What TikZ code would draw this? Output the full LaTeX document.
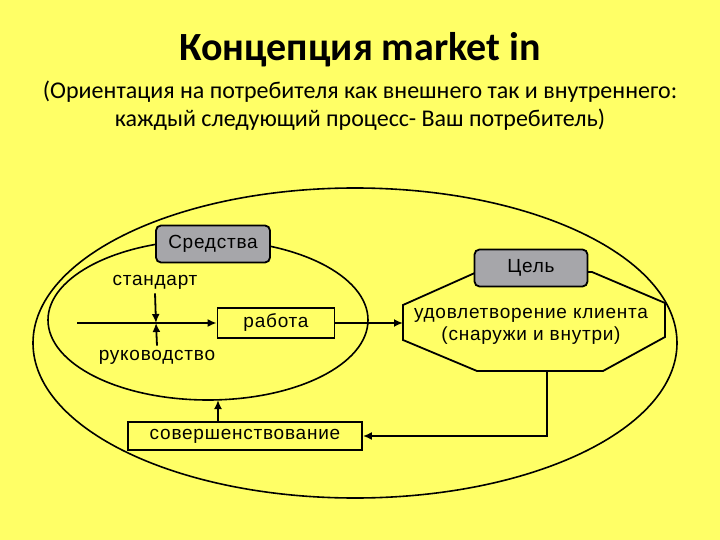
\documentclass[tikz,border=0pt]{standalone}
\usepackage{fontspec}
\setmainfont{Carlito}
\newfontfamily\pixfont[LetterSpace=4]{Liberation Sans}
\usetikzlibrary{arrows.meta,positioning,calc}
\definecolor{SlideYellow}{RGB}{255,255,102}
\definecolor{BoxGray}{RGB}{166,166,170}

\begin{document}
\begin{tikzpicture}[x=1pt,y=-1pt,>={Latex[length=9pt,width=8pt]},line width=1.8pt,
 every node/.style={font=\pixfont\fontsize{19}{22}\selectfont},
 frame/.style={draw,fill=SlideYellow,inner sep=0pt},
 tag/.style={draw,fill=BoxGray,rounded corners=5pt,inner sep=0pt}]
\fill[SlideYellow] (0,0) rectangle (720,540);
\useasboundingbox (0,0) rectangle (720,540);

\node[font=\bfseries\fontsize{40}{44}\selectfont] (title) at (360,50) {Концепция market in};
\node[font=\fontsize{24}{28}\selectfont,align=center] (sub) at (360,106)
 {(Ориентация на потребителя как внешнего так и внутреннего:\\
 каждый следующий процесс- Ваш потребитель)};

% two loops
\draw[line width=1.6pt] (355,343) ellipse [x radius=322,y radius=155];
\draw[line width=1.6pt] (208,320) ellipse [x radius=160,y radius=80];

% goal hexagon
\draw[fill=SlideYellow] (403,305) -- (477,272) -- (592,272) -- (665,303) -- (665,337)
 -- (603,371) -- (477,371) -- (403,340) -- cycle;
\node[align=center] (client) at (531,326) {удовлетворение клиента\\(снаружи и внутри)};
\coordinate (hexW) at (403,323);
\coordinate (hexS) at (547,371);

\node[tag,minimum width=114pt,minimum height=37pt] (means) at (213,244) {Средства};
\node[tag,minimum width=113pt,minimum height=37pt] (goal) at (531,268) {Цель};
\node[frame,minimum width=117pt,minimum height=30pt] (work) at (276,323) {работа};
\node[frame,minimum width=234pt,minimum height=28pt] (improve) at (245,436) {совершенствование};

\node (std) at (155,282) {стандарт};
\node (guide) at (157,357) {руководство};
\coordinate (cross) at (156,323);
\coordinate (input) at (77,323);
\coordinate (loopB) at (218,400);

\draw[->] (input) -- (work.west);
\draw[->] (std.south) -- (cross);
\draw[->] (guide.north) -- (cross);
\draw[->] (work.east) -- (hexW);
\draw[->] (hexS) |- (improve.east);
\draw[->] (improve.north -| loopB) -- (loopB);
\end{tikzpicture}
\end{document}
